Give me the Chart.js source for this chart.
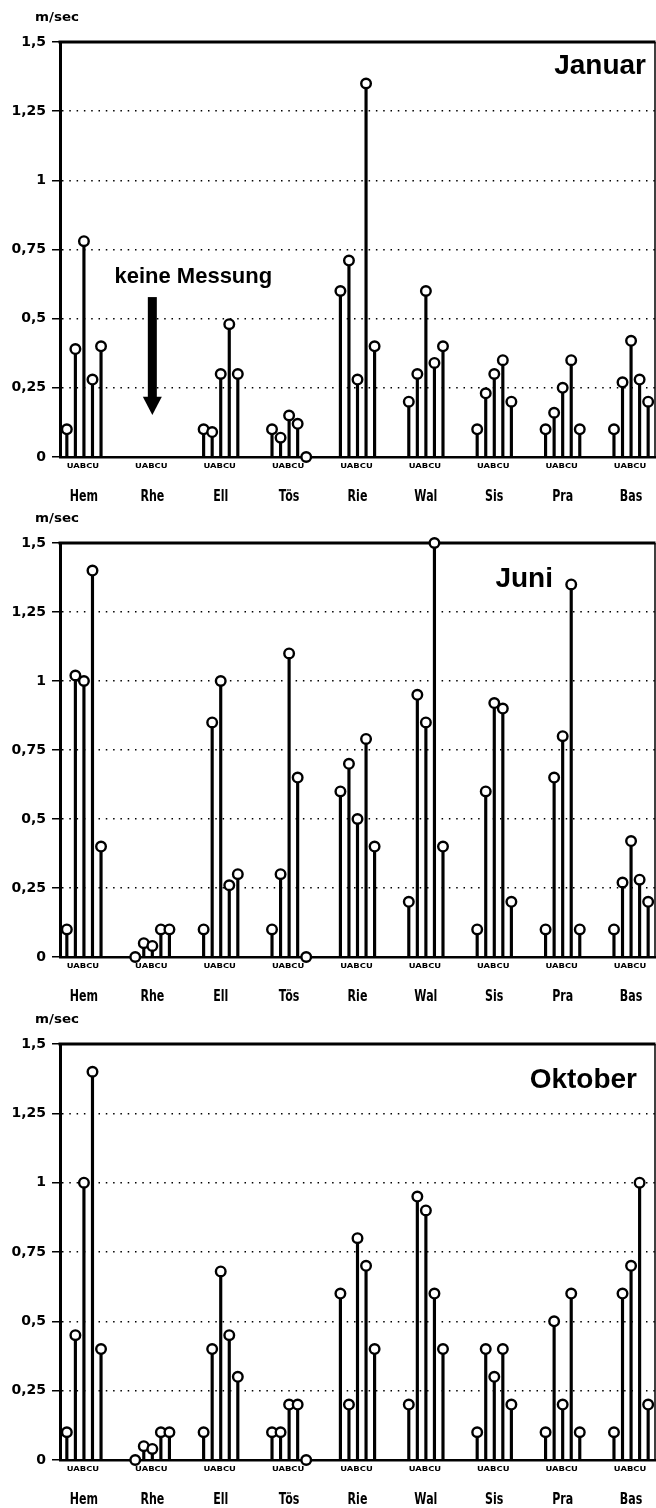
<!DOCTYPE html>
<html lang="de">
<head>
<meta charset="utf-8">
<title>Fliessgeschwindigkeit</title>
<script src="https://cdn.jsdelivr.net/npm/chart.js@4.4.1/dist/chart.umd.min.js"></script>
<style>
  html, body { margin: 0; padding: 0; background: #fff; }
  #wrap { position: relative; width: 656px; height: 1508px; overflow: hidden; background: #fff; }
  canvas { position: absolute; left: 0; display: block; }
</style>
</head>
<body>
<div id="wrap">
  <canvas id="p0" width="656" height="505" style="top:0px"></canvas>
  <canvas id="p1" width="656" height="505" style="top:505px"></canvas>
  <canvas id="p2" width="656" height="498" style="top:1010px"></canvas>
</div>
<script>
// Messstationen und Messpunkte je Station
const stations = ['Hem', 'Rhe', 'Ell', 'Tös', 'Rie', 'Wal', 'Sis', 'Pra', 'Bas'];
const samplingPoints = ['U', 'A', 'B', 'C', 'U'];
const yTicks = [0, 0.25, 0.5, 0.75, 1, 1.25, 1.5];

// Fliessgeschwindigkeit in m/sec, je Station die Punkte U A B C U
const januar = [
  [0.10, 0.39, 0.78, 0.28, 0.40],
  null,                              // Rhe: keine Messung
  [0.10, 0.09, 0.30, 0.48, 0.30],
  [0.10, 0.07, 0.15, 0.12, 0.00],
  [0.60, 0.71, 0.28, 1.35, 0.40],
  [0.20, 0.30, 0.60, 0.34, 0.40],
  [0.10, 0.23, 0.30, 0.35, 0.20],
  [0.10, 0.16, 0.25, 0.35, 0.10],
  [0.10, 0.27, 0.42, 0.28, 0.20]
];
const juni = [
  [0.10, 1.02, 1.00, 1.40, 0.40],
  [0.00, 0.05, 0.04, 0.10, 0.10],
  [0.10, 0.85, 1.00, 0.26, 0.30],
  [0.10, 0.30, 1.10, 0.65, 0.00],
  [0.60, 0.70, 0.50, 0.79, 0.40],
  [0.20, 0.95, 0.85, 1.50, 0.40],
  [0.10, 0.60, 0.92, 0.90, 0.20],
  [0.10, 0.65, 0.80, 1.35, 0.10],
  [0.10, 0.27, 0.42, 0.28, 0.20]
];
const oktober = [
  [0.10, 0.45, 1.00, 1.40, 0.40],
  [0.00, 0.05, 0.04, 0.10, 0.10],
  [0.10, 0.40, 0.68, 0.45, 0.30],
  [0.10, 0.10, 0.20, 0.20, 0.00],
  [0.60, 0.20, 0.80, 0.70, 0.40],
  [0.20, 0.95, 0.90, 0.60, 0.40],
  [0.10, 0.40, 0.30, 0.40, 0.20],
  [0.10, 0.50, 0.20, 0.60, 0.10],
  [0.10, 0.60, 0.70, 1.00, 0.20]
];

// horizontal spread of the five stems around the station position (x units)
const STEM_SPREAD = 0.125;
const FONT_SANS = '"Liberation Sans", Arial, sans-serif';
const FONT_WIDE = '"DejaVu Sans", sans-serif';

const fmt = v => String(v).replace('.', ',');

// text with independent horizontal / vertical stretch
function stretchedText(ctx, text, x, y, font, sx, sy, align) {
  ctx.save();
  ctx.translate(x, y);
  ctx.scale(sx, sy);
  ctx.font = font;
  ctx.textAlign = align || 'center';
  ctx.textBaseline = 'middle';
  ctx.fillText(text, 0, 0);
  ctx.restore();
}

// frame, title, unit and station labels for one panel
const panelDecor = {
  id: 'panelDecor',
  beforeDatasetsDraw(chart, args, o) {
    const { ctx, chartArea: a, scales: { x, y } } = chart;
    ctx.save();
    ctx.strokeStyle = '#000';
    ctx.fillStyle = '#000';

    // top frame (heavy) and right frame (light)
    ctx.lineWidth = 3;
    ctx.beginPath();
    ctx.moveTo(a.left - 1.5, a.top);
    ctx.lineTo(a.right + 0.5, a.top);
    ctx.stroke();
    ctx.lineWidth = 1.5;
    ctx.beginPath();
    ctx.moveTo(a.right, a.top);
    ctx.lineTo(a.right, a.bottom);
    ctx.stroke();

    // unit above the value axis
    stretchedText(ctx, 'm/sec', 35, a.top - 24, 'bold 12px ' + FONT_WIDE, 1.12, 1, 'left');

    // month title
    ctx.font = 'bold 28px ' + FONT_SANS;
    ctx.textAlign = 'right';
    ctx.textBaseline = 'middle';
    ctx.fillText(o.title, o.titleRight, a.top + o.titleDy);

    // sampling point codes and station names below each group
    stations.forEach((name, g) => {
      const px = x.getPixelForValue(g);
      stretchedText(ctx, samplingPoints.join(''), px - 1, a.bottom + 9, 'bold 8px ' + FONT_WIDE, 1.05, 0.85);
      stretchedText(ctx, name, px, a.bottom + 40, 'bold 13px ' + FONT_WIDE, 0.85, 1.25);
    });

    // note for the station without measurement
    if (o.missing != null) {
      const px = x.getPixelForValue(o.missing);
      ctx.font = 'bold 22px ' + FONT_SANS;
      ctx.textAlign = 'center';
      ctx.textBaseline = 'middle';
      ctx.fillText('keine Messung', px + 41, y.getPixelForValue(0.65));
      const yTop = y.getPixelForValue(0.578);
      const yNeck = y.getPixelForValue(0.218);
      const yTip = y.getPixelForValue(0.152);
      ctx.fillRect(px - 4.5, yTop, 9, yNeck - yTop + 1);
      ctx.beginPath();
      ctx.moveTo(px - 9.5, yNeck);
      ctx.lineTo(px + 9.5, yNeck);
      ctx.lineTo(px, yTip);
      ctx.closePath();
      ctx.fill();
    }
    ctx.restore();
  }
};

function makePanel(id, values, deco, padTop, axisHeight) {
  const stems = [];
  values.forEach((group, g) => {
    if (!group) return;
    group.forEach((v, k) => {
      stems.push({ x: g + (k - 2) * STEM_SPREAD, y: v });
    });
  });

  return new Chart(document.getElementById(id), {
    type: 'bar',
    data: {
      datasets: [
        {
          type: 'line',
          data: stems,
          showLine: false,
          pointRadius: 4.8,
          pointBorderWidth: 2.4,
          pointBorderColor: '#000',
          pointBackgroundColor: '#fff',
          clip: false,
          order: 0
        },
        {
          type: 'bar',
          data: stems,
          backgroundColor: '#000',
          barThickness: 2.5,
          grouped: false,
          order: 1
        }
      ]
    },
    options: {
      responsive: false,
      animation: false,
      events: [],
      layout: { autoPadding: false, padding: { top: padTop, left: 0, right: 1, bottom: 0 } },
      plugins: {
        legend: { display: false },
        tooltip: { enabled: false },
        panelDecor: deco
      },
      scales: {
        x: {
          type: 'linear',
          min: -0.35,
          max: 8.35,
          offset: false,
          grid: { display: false },
          border: { display: true, color: '#000', width: 2.5 },
          ticks: { display: false },
          afterFit: s => { s.height = axisHeight; }
        },
        y: {
          type: 'linear',
          min: 0,
          max: 1.5,
          afterBuildTicks: s => { s.ticks = yTicks.map(v => ({ value: v })); },
          afterFit: s => { s.width = 60; },
          border: { display: true, color: '#000', width: 3, dash: [1.5, 5.8] },
          grid: {
            drawOnChartArea: true,
            drawTicks: true,
            tickLength: 8,
            tickWidth: 1.5,
            tickColor: '#000',
            lineWidth: 1.5,
            color: c => (c.tick && (c.tick.value === 0 || c.tick.value === 1.5)) ? 'rgba(0,0,0,0)' : '#000'
          },
          ticks: {
            padding: 6,
            color: '#000',
            font: { family: FONT_WIDE, weight: 'bold', size: 14 },
            callback: v => fmt(v)
          }
        }
      }
    },
    plugins: [panelDecor]
  });
}

makePanel('p0', januar,  { title: 'Januar',  titleRight: 646, titleDy: 24, missing: 1 }, 42, 48);
makePanel('p1', juni,    { title: 'Juni',    titleRight: 553, titleDy: 36 }, 38, 53);
makePanel('p2', oktober, { title: 'Oktober', titleRight: 637, titleDy: 36 }, 34, 48);
</script>
</body>
</html>
